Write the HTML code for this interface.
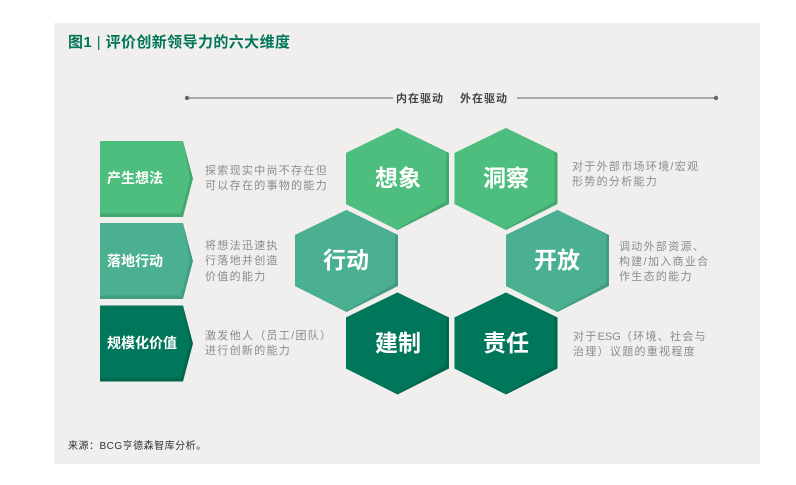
<!DOCTYPE html>
<html lang="zh"><head><meta charset="utf-8"><style>
html,body{margin:0;padding:0;background:#fff}
svg{display:block}
text{font-family:"Liberation Sans","Noto Sans CJK SC",sans-serif}
.d{font-size:11px;fill:#8b8b8b;letter-spacing:1.3px}
.h{font-size:23px;font-weight:700;fill:#fff;text-anchor:middle}
.c{font-size:14px;font-weight:700;fill:#fff}
</style></head><body>
<svg width="796" height="485" viewBox="0 0 796 485" xmlns="http://www.w3.org/2000/svg">
<rect width="796" height="485" fill="#fff"/>
<rect x="54" y="23" width="706" height="441" fill="#f0efee"/>
<text x="68" y="47" font-size="15" font-weight="700" fill="#007558" letter-spacing="0.4">图1 <tspan font-weight="400">|</tspan> 评价创新领导力的六大维度</text>
<line x1="186" y1="98" x2="393" y2="98" stroke="#7d7d7d" stroke-width="1.2"/>
<line x1="517" y1="98" x2="717" y2="98" stroke="#7d7d7d" stroke-width="1.2"/>
<circle cx="187" cy="98" r="2.2" fill="#666"/><circle cx="716" cy="98" r="2.2" fill="#666"/>
<text x="396" y="102" font-size="11" font-weight="700" fill="#444" letter-spacing="1">内在驱动</text>
<text x="460" y="102" font-size="11" font-weight="700" fill="#444" letter-spacing="1">外在驱动</text>

<defs>
<g id="hx"><polygon points="0,0 51.5,25 51.5,76 0,102 -51.5,76 -51.5,25"/></g>
<g id="hi"><polygon points="0,0 48.5,24.500 48.500,73.500 -0.500,101 -51.500,76 -51.500,25"/></g>
</defs>
<g fill="#42a870"><use href="#hx" x="397.500" y="128"/><use href="#hx" x="506" y="128"/></g>
<g fill="#4dbe7d"><use href="#hi" x="397.500" y="128"/><use href="#hi" x="506" y="128"/></g>
<g fill="#429c80"><use href="#hx" x="346.500" y="210"/><use href="#hx" x="557.500" y="210"/></g>
<g fill="#4bb092"><use href="#hi" x="346.500" y="210"/><use href="#hi" x="557.500" y="210"/></g>
<g fill="#00664c"><use href="#hx" x="397.500" y="292.500"/><use href="#hx" x="506" y="292.500"/></g>
<g fill="#00765a"><use href="#hi" x="397.500" y="292.500"/><use href="#hi" x="506" y="292.500"/></g>
<text class="h" x="398" y="186">想象</text>
<text class="h" x="506" y="186">洞察</text>
<text class="h" x="346" y="268">行动</text>
<text class="h" x="557" y="268">开放</text>
<text class="h" x="398" y="351">建制</text>
<text class="h" x="506" y="351">责任</text>

<polygon points="100,141 183,141 193,178.500 183,217 100,217" fill="#42a870"/>
<polygon points="100,141 183,141 190,178.500 181,213.500 100,213.500" fill="#4dbe7d"/>
<polygon points="100,223 183,223 193,261 183,299 100,299" fill="#429c80"/>
<polygon points="100,223 183,223 190,261 181,295.500 100,295.500" fill="#4bb092"/>
<polygon points="100,305.500 183,305.500 193,343.500 183,381.500 100,381.500" fill="#00664c"/>
<polygon points="100,305.500 183,305.500 190,343.500 181,378 100,378" fill="#00765a"/>
<text class="c" x="107" y="183">产生想法</text>
<text class="c" x="107" y="266">落地行动</text>
<text class="c" x="107" y="348">规模化价值</text>

<text class="d" x="205" y="174">探索现实中尚不存在但</text>
<text class="d" x="205" y="189">可以存在的事物的能力</text>
<text class="d" x="205" y="249">将想法迅速执</text>
<text class="d" x="205" y="264">行落地并创造</text>
<text class="d" x="205" y="280">价值的能力</text>
<text class="d" x="205" y="339">激发他人（员工/团队）</text>
<text class="d" x="205" y="354">进行创新的能力</text>
<text class="d" x="572" y="170">对于外部市场环境/宏观</text>
<text class="d" x="572" y="185">形势的分析能力</text>
<text class="d" x="619" y="250">调动外部资源、</text>
<text class="d" x="619" y="265" letter-spacing="1.6">构建/加入商业合</text>
<text class="d" x="619" y="280">作生态的能力</text>
<text class="d" x="573" y="340">对于<tspan letter-spacing="0">ESG</tspan>（环境、社会与</text>
<text class="d" x="573" y="355">治理）议题的重视程度</text>
<text x="68" y="449" font-size="10" fill="#333" letter-spacing="0.5">来源：BCG亨德森智库分析。</text>
</svg>
</body></html>
